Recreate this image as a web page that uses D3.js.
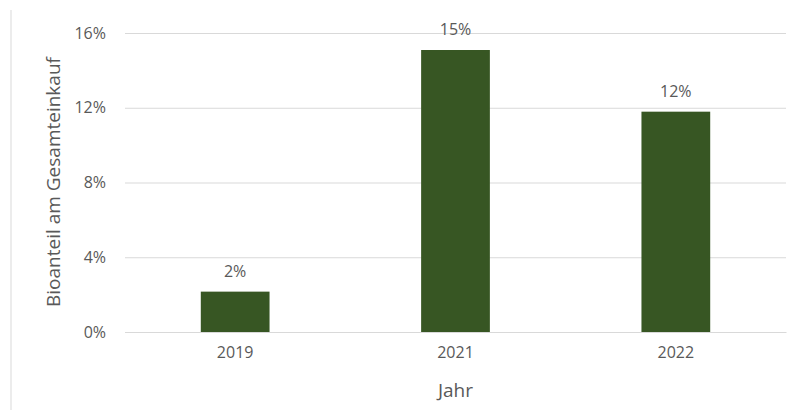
<!DOCTYPE html>
<html><head><meta charset="utf-8">
<script src="https://cdn.jsdelivr.net/npm/d3@7"></script>
<style>body{margin:0;background:#fff}svg{display:block}text{font-family:"Open Sans","Liberation Sans",Arial,sans-serif;fill:#595959}</style>
</head><body><svg id="c" width="796" height="414"></svg>
<script>
const categories = ["2019", "2021", "2022"];
const values = [2.16, 15.09, 11.79];
const labels = ["2%", "15%", "12%"];
const yTicks = [0, 4, 8, 12, 16];

(function () {
const svg = d3.select("#c");
const pLeft = 125, pRight = 786, pTop = 33, pBottom = 332;
const x = d3.scaleBand().domain(categories).range([pLeft, pRight]).paddingInner(0.688).paddingOuter(0.344);
const y = d3.scaleLinear().domain([0, 16]).range([pBottom, pTop]);

svg.append("line").attr("x1", 11).attr("x2", 11).attr("y1", 10).attr("y2", 410).attr("stroke", "#d9d9d9").attr("stroke-width", 1);

const ya = svg.append("g").attr("transform", `translate(${pLeft},0)`)
  .call(d3.axisLeft(y).tickValues(yTicks).tickSize(-(pRight - pLeft)).tickPadding(19).tickFormat(d => d + "%"));
ya.select(".domain").remove();
ya.selectAll(".tick line").attr("stroke", "#d9d9d9");
ya.selectAll(".tick text").attr("font-size", 16).attr("fill", "#595959");

const xa = svg.append("g").attr("transform", `translate(0,${pBottom})`)
  .call(d3.axisBottom(x).tickSize(0).tickPadding(15));
xa.select(".domain").attr("stroke", "#d9d9d9");
xa.selectAll(".tick text").attr("font-size", 16).attr("fill", "#595959");

svg.selectAll("rect.bar").data(categories).join("rect").attr("class", "bar")
  .attr("x", d => x(d)).attr("width", x.bandwidth())
  .attr("y", (d, i) => y(values[i])).attr("height", (d, i) => pBottom - y(values[i]))
  .attr("fill", "#375623");

svg.selectAll("text.lbl").data(categories).join("text").attr("class", "lbl")
  .attr("x", d => x(d) + x.bandwidth() / 2).attr("y", (d, i) => y(values[i]) - 15)
  .attr("text-anchor", "middle").attr("font-size", 16).text((d, i) => labels[i]);

svg.append("text").attr("x", (pLeft + pRight) / 2).attr("y", 397).attr("text-anchor", "middle").attr("font-size", 19).text("Jahr");
svg.append("text").attr("transform", `translate(60,182) rotate(-90)`).attr("text-anchor", "middle").attr("font-size", 19).text("Bioanteil am Gesamteinkauf");
})();
</script></body></html>
